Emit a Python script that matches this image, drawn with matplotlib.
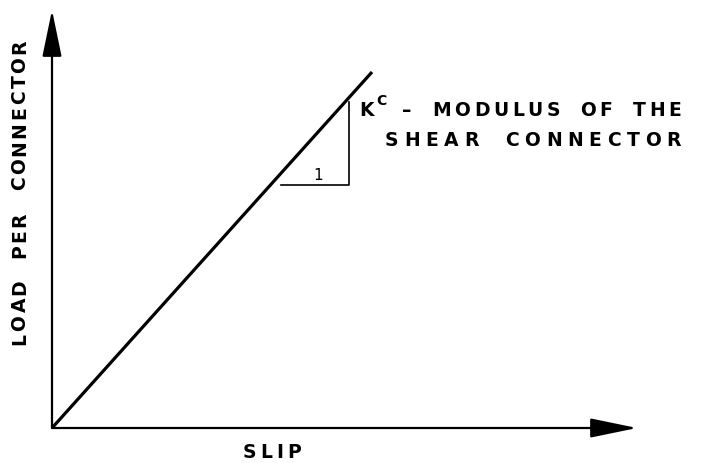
#!/usr/bin/env python3
"""
Load-slip sketch for a shear connector: linear load/slip line with the
slope triangle that defines the connector modulus K^c.

Writes out.png (701 x 463 px).
"""

import matplotlib
matplotlib.use("Agg")
import matplotlib.pyplot as plt
from matplotlib.font_manager import FontProperties


W, H, DPI = 701, 463, 100

# Sketch values (arbitrary units, origin at the corner of the axes).
SLIP_MAX = 585
LOAD_MAX = 418
SLIP_LINE = [0, 320]
LOAD_LINE = [0, 356]
TRI_SLIP = [229, 297, 297]
TRI_LOAD = [243, 243, 326]

# Texts.
Y_LABEL = "LOAD PER CONNECTOR"
X_LABEL = "SLIP"
RUN_LABEL = "1"
K_SYMBOL = "K"
K_SUP = "C"
K_DASH = "–"
DESC_LINES = ["MODULUS OF THE", "SHEAR CONNECTOR"]

FONT = dict(family="DejaVu Sans", size=13.5, weight="bold")


def font(**kw):
    return FontProperties(**{**FONT, **kw})


def tracked(fig, s, start, end, pos, vertical=False, space=0.55):
    """Lay out s glyph by glyph between start and end (px) so the wide
    letter spacing of the hand lettering is kept. pos = centre line (px)."""
    fp = font()
    rend = fig.canvas.get_renderer()
    widths = []
    for ch in s:
        if ch == " ":
            widths.append(fp.get_size_in_points() * DPI / 72 * space)
        else:
            widths.append(rend.get_text_width_height_descent(ch, fp, ismath=False)[0])
    gap = (abs(end - start) - sum(widths)) / (len(s) - 1)
    p = 0.0
    for ch, w in zip(s, widths):
        c = p + w / 2
        if ch != " ":
            if vertical:
                fig.text(pos / W, 1 - (start - c) / H, ch, ha="center",
                         va="center", rotation=90, fontproperties=fp)
            else:
                fig.text((start + c) / W, 1 - pos / H, ch, ha="center",
                         va="center", fontproperties=fp)
        p += w + gap


def main():
    fig = plt.figure(figsize=(W / DPI, H / DPI), dpi=DPI)
    fig.patch.set_facecolor("white")

    left, bottom_px, right, top = 52, 428, 637, 10
    ax = fig.add_axes([left / W, 1 - bottom_px / H,
                       (right - left) / W, (bottom_px - top) / H])
    ax.set_xlim(0, SLIP_MAX)
    ax.set_ylim(0, LOAD_MAX)
    ax.axis("off")

    arrow = dict(arrowstyle="-|>,head_length=1.45,head_width=0.3",
                 mutation_scale=20, lw=1.6, color="black",
                 shrinkA=0, shrinkB=0)
    ax.annotate("", xy=(SLIP_MAX, 0), xytext=(0, 0), arrowprops=arrow,
                annotation_clip=False)
    ax.annotate("", xy=(0, LOAD_MAX), xytext=(0, 0), arrowprops=arrow,
                annotation_clip=False)

    # Load-slip line and slope triangle.
    ax.plot(SLIP_LINE, LOAD_LINE, color="black", lw=2.3,
            solid_capstyle="butt", clip_on=False)
    ax.plot(TRI_SLIP, TRI_LOAD, color="black", lw=1.2, clip_on=False)

    # Labels (pixel positions, letter-spaced like the lettering guide).
    # Vertical label runs from the bottom of "L" (345) up to the top of "R" (40).
    tracked(fig, Y_LABEL, 345, 40, 20, vertical=True, space=0.9)
    tracked(fig, X_LABEL, 243, 301, 452)

    fig.text(318 / W, 1 - 175 / H, RUN_LABEL, ha="center", va="center",
             fontproperties=font(size=11, weight="normal"))
    fig.text(359 / W, 1 - 110 / H, K_SYMBOL, ha="left", va="center",
             fontproperties=font())
    fig.text(376 / W, 1 - 101 / H, K_SUP, ha="left", va="center",
             fontproperties=font(size=10))
    fig.text(407 / W, 1 - 110 / H, K_DASH, ha="center", va="center",
             fontproperties=font())
    tracked(fig, DESC_LINES[0], 432, 681, 110, space=0.7)
    tracked(fig, DESC_LINES[1], 385, 681, 140, space=0.8)

    fig.savefig("out.png", dpi=DPI)


if __name__ == "__main__":
    main()
